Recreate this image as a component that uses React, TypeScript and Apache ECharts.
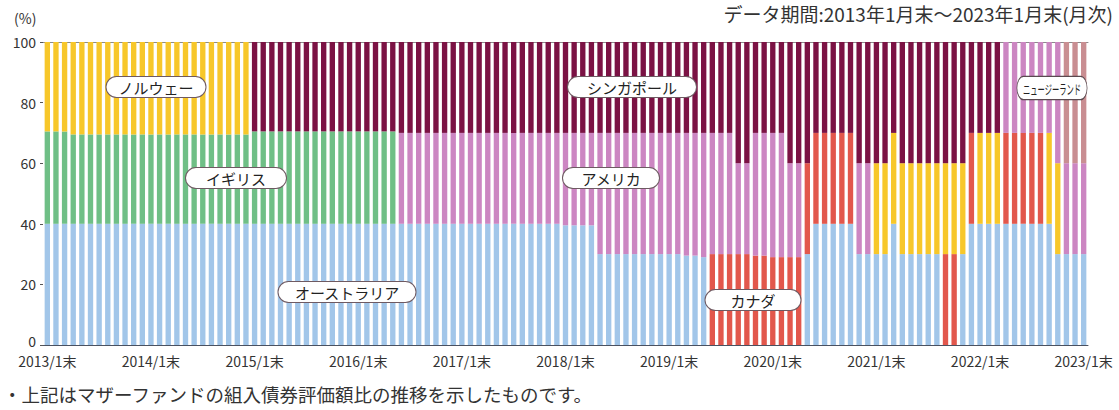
import React, { useEffect, useRef } from "react";
import * as echarts from "echarts";

// ---- categories (month-ends, 2013/1 .. 2023/1) ----
const years = [2013, 2014, 2015, 2016, 2017, 2018, 2019, 2020, 2021, 2022, 2023];
const months: string[] = [];
years.forEach((y) => {
  for (let m = 1; m <= 12; m++) {
    if (y === 2023 && m > 1) break;
    months.push(`${y}/${m}末`);
  }
});

const yTicks = [0, 20, 40, 60, 80, 100];

// ---- series values (%), one row per year ----
const australia = [
  40, 40, 40, 40, 40, 40, 40, 40, 40, 40, 40, 40,
  40, 40, 40, 40, 40, 40, 40, 40, 40, 40, 40, 40,
  40, 40, 40, 40, 40, 40, 40, 40, 40, 40, 40, 40,
  40, 40, 40, 40, 40, 40, 40, 40, 40, 40, 40, 40,
  40, 40, 40, 40, 40, 40, 40, 40, 40, 40, 40, 40,
  39.5, 39.5, 39.5, 39.5, 30, 30, 30, 30, 30, 30, 30, 30,
  30, 30, 29.5, 29.5, 29, 0, 0, 0, 0, 0, 0, 0,
  0, 0, 0, 0, 30, 40, 40, 40, 40, 40, 30, 30,
  30, 30, 40, 30, 30, 30, 30, 30, 0, 0, 30, 40,
  40, 40, 40, 40, 40, 40, 40, 40, 40, 30, 30, 30,
  30,
];
const canada = [
  0, 0, 0, 0, 0, 0, 0, 0, 0, 0, 0, 0,
  0, 0, 0, 0, 0, 0, 0, 0, 0, 0, 0, 0,
  0, 0, 0, 0, 0, 0, 0, 0, 0, 0, 0, 0,
  0, 0, 0, 0, 0, 0, 0, 0, 0, 0, 0, 0,
  0, 0, 0, 0, 0, 0, 0, 0, 0, 0, 0, 0,
  0, 0, 0, 0, 0, 0, 0, 0, 0, 0, 0, 0,
  0, 0, 0, 0, 0, 30, 30, 30, 30, 30, 29.5, 29.5,
  29, 29, 29, 29, 30, 30, 30, 30, 30, 30, 0, 0,
  0, 0, 0, 0, 0, 0, 0, 0, 30, 30, 0, 30,
  0, 0, 0, 30, 30, 30, 30, 30, 0, 0, 0, 0,
  0,
];
const uk = [
  30.5, 30.5, 30.5, 29.5, 29.5, 29.5, 29.5, 29.5, 29.5, 29.5, 29.5, 29.5,
  29.5, 29.5, 29.5, 29.5, 29.5, 29.5, 29.5, 29.5, 29.5, 29.5, 29.5, 29.5,
  30.5, 30.5, 30.5, 30.5, 30.5, 30.5, 30.5, 30.5, 30.5, 30.5, 30.5, 30.5,
  30.5, 30.5, 30.5, 30.5, 30.5, 0, 0, 0, 0, 0, 0, 0,
  0, 0, 0, 0, 0, 0, 0, 0, 0, 0, 0, 0,
  0, 0, 0, 0, 0, 0, 0, 0, 0, 0, 0, 0,
  0, 0, 0, 0, 0, 0, 0, 0, 0, 0, 0, 0,
  0, 0, 0, 0, 0, 0, 0, 0, 0, 0, 0, 0,
  0, 0, 0, 0, 0, 0, 0, 0, 0, 0, 0, 0,
  0, 0, 0, 0, 0, 0, 0, 0, 0, 0, 0, 0,
  0,
];
const norway = [
  29.5, 29.5, 29.5, 30.5, 30.5, 30.5, 30.5, 30.5, 30.5, 30.5, 30.5, 30.5,
  30.5, 30.5, 30.5, 30.5, 30.5, 30.5, 30.5, 30.5, 30.5, 30.5, 30.5, 30.5,
  0, 0, 0, 0, 0, 0, 0, 0, 0, 0, 0, 0,
  0, 0, 0, 0, 0, 0, 0, 0, 0, 0, 0, 0,
  0, 0, 0, 0, 0, 0, 0, 0, 0, 0, 0, 0,
  0, 0, 0, 0, 0, 0, 0, 0, 0, 0, 0, 0,
  0, 0, 0, 0, 0, 0, 0, 0, 0, 0, 0, 0,
  0, 0, 0, 0, 0, 0, 0, 0, 0, 0, 0, 0,
  30, 30, 30, 30, 30, 30, 30, 30, 30, 30, 30, 0,
  30, 30, 30, 0, 0, 0, 0, 0, 30, 30, 0, 0,
  0,
];
const usa = [
  0, 0, 0, 0, 0, 0, 0, 0, 0, 0, 0, 0,
  0, 0, 0, 0, 0, 0, 0, 0, 0, 0, 0, 0,
  0, 0, 0, 0, 0, 0, 0, 0, 0, 0, 0, 0,
  0, 0, 0, 0, 0, 30, 30, 30, 30, 30, 30, 30,
  30, 30, 30, 30, 30, 30, 30, 30, 30, 30, 30, 30,
  30.5, 30.5, 30.5, 30.5, 40, 40, 40, 40, 40, 40, 40, 40,
  40, 40, 40.5, 40.5, 41, 40, 40, 40, 30, 30, 40.5, 40.5,
  41, 41, 31, 31, 0, 0, 0, 0, 0, 0, 30, 30,
  0, 0, 0, 0, 0, 0, 0, 0, 0, 0, 0, 0,
  0, 0, 0, 30, 30, 30, 30, 30, 30, 40, 30, 30,
  30,
];
const singapore = [
  0, 0, 0, 0, 0, 0, 0, 0, 0, 0, 0, 0,
  0, 0, 0, 0, 0, 0, 0, 0, 0, 0, 0, 0,
  29.5, 29.5, 29.5, 29.5, 29.5, 29.5, 29.5, 29.5, 29.5, 29.5, 29.5, 29.5,
  29.5, 29.5, 29.5, 29.5, 29.5, 30, 30, 30, 30, 30, 30, 30,
  30, 30, 30, 30, 30, 30, 30, 30, 30, 30, 30, 30,
  30, 30, 30, 30, 30, 30, 30, 30, 30, 30, 30, 30,
  30, 30, 30, 30, 30, 30, 30, 30, 40, 40, 30, 30,
  30, 30, 40, 40, 40, 30, 30, 30, 30, 30, 40, 40,
  40, 40, 30, 40, 40, 40, 40, 40, 40, 40, 40, 30,
  30, 30, 30, 0, 0, 0, 0, 0, 0, 0, 0, 0,
  0,
];
const newZealand = [
  0, 0, 0, 0, 0, 0, 0, 0, 0, 0, 0, 0,
  0, 0, 0, 0, 0, 0, 0, 0, 0, 0, 0, 0,
  0, 0, 0, 0, 0, 0, 0, 0, 0, 0, 0, 0,
  0, 0, 0, 0, 0, 0, 0, 0, 0, 0, 0, 0,
  0, 0, 0, 0, 0, 0, 0, 0, 0, 0, 0, 0,
  0, 0, 0, 0, 0, 0, 0, 0, 0, 0, 0, 0,
  0, 0, 0, 0, 0, 0, 0, 0, 0, 0, 0, 0,
  0, 0, 0, 0, 0, 0, 0, 0, 0, 0, 0, 0,
  0, 0, 0, 0, 0, 0, 0, 0, 0, 0, 0, 0,
  0, 0, 0, 0, 0, 0, 0, 0, 0, 0, 40, 40,
  40,
];

const seriesDefs = [
  { name: "オーストラリア", data: australia, color: "#a2c6e9" },
  { name: "カナダ", data: canada, color: "#e2574c" },
  { name: "イギリス", data: uk, color: "#6fbf86" },
  { name: "ノルウェー", data: norway, color: "#f7c72a" },
  { name: "アメリカ", data: usa, color: "#cc86c2" },
  { name: "シンガポール", data: singapore, color: "#7b1244" },
  { name: "ニュージーランド", data: newZealand, color: "#c98e92" },
];

// label pills: text, center x, center y, horizontal padding
const pills: [string, number, number, number][] = [
  ["ノルウェー", 156, 87, 12],
  ["イギリス", 236, 178, 20],
  ["オーストラリア", 347, 292, 16],
  ["シンガポール", 632, 87, 19],
  ["アメリカ", 611, 178, 18],
  ["カナダ", 753, 300, 25],
];

const FONT = '"Noto Sans CJK JP", "Noto Sans", sans-serif';

export default function App() {
  const ref = useRef<HTMLDivElement>(null);
  useEffect(() => {
    if (!ref.current) return;
    const chart = echarts.init(ref.current, null, { renderer: "svg" });
    const graphics: any[] = pills.map(([t, x, y, p]) => ({
      type: "text",
      x,
      y,
      z: 100,
      style: {
        text: t,
        font: `15px ${FONT}`,
        fill: "#222",
        align: "center",
        verticalAlign: "middle",
        backgroundColor: "#fff",
        borderColor: "#6e5a62",
        borderWidth: 1,
        borderRadius: 12,
        padding: [3, p, 2, p],
      },
    }));
    graphics.push({
      type: "text",
      x: 1052,
      y: 88,
      z: 100,
      scaleX: 0.56,
      style: {
        text: "ニュージーランド",
        font: `13px ${FONT}`,
        fill: "#222",
        align: "center",
        verticalAlign: "middle",
        backgroundColor: "#fff",
        borderColor: "#5a4a50",
        borderWidth: 1.3,
        borderRadius: 12,
        padding: [5, 10, 4, 10],
      },
    });
    graphics.push(
      {
        type: "text",
        left: 14,
        top: 11,
        style: { text: "(%)", font: `14px ${FONT}`, fill: "#333" },
      },
      {
        type: "text",
        right: 6,
        top: 4,
        style: {
          text: "データ期間:2013年1月末～2023年1月末(月次)",
          font: `19px ${FONT}`,
          fill: "#333",
        },
      },
      {
        type: "text",
        left: 3,
        top: 385,
        style: {
          text: "・上記はマザーファンドの組入債券評価額比の推移を示したものです。",
          font: `18.5px ${FONT}`,
          fill: "#333",
        },
      }
    );

    chart.setOption({
      animation: false,
      backgroundColor: "#fff",
      grid: { left: 43, right: 31, top: 42, bottom: 65 },
      xAxis: [
        {
          type: "category",
          data: months,
          boundaryGap: true,
          axisLine: { show: true, lineStyle: { color: "#4a5160", width: 1 } },
          axisTick: { show: false },
          axisLabel: {
            interval: (i: number) => i % 12 === 0,
            formatter: (v: string) => v,
            color: "#333",
            fontSize: 14,
            lineHeight: 15,
            fontFamily: FONT,
            margin: 8,
          },
          splitLine: { show: false },
        },
        {
          type: "category",
          data: months,
          position: "top",
          axisLine: { show: true, lineStyle: { color: "#8a8a8a", width: 1 } },
          axisTick: { show: false },
          axisLabel: { show: false },
        },
      ],
      yAxis: {
        type: "value",
        min: 0,
        max: 100,
        interval: 20,
        axisLine: { show: false },
        axisTick: { show: true, length: 3, lineStyle: { color: "#555" } },
        axisLabel: {
          color: "#333",
          fontSize: 14,
          lineHeight: 14,
          fontFamily: FONT,
          margin: 7,
          formatter: (v: number) =>
            v === 0 ? "{z|0}" : yTicks.includes(v) ? String(v) : "",
          rich: {
            z: {
              color: "#333",
              fontSize: 14,
              lineHeight: 14,
              fontFamily: FONT,
              padding: [0, 0, 8, 0],
            },
          },
        },
        splitLine: { show: false },
      },
      series: seriesDefs.map((s) => ({
        name: s.name,
        type: "bar",
        stack: "total",
        data: s.data,
        barCategoryGap: "38%",
        itemStyle: { color: s.color },
        emphasis: { disabled: true },
      })),
      graphic: graphics,
    });
    return () => chart.dispose();
  }, []);
  return (
    <div
      ref={ref}
      style={{ position: "fixed", left: 0, top: 0, width: 1119, height: 410, background: "#fff" }}
    />
  );
}
